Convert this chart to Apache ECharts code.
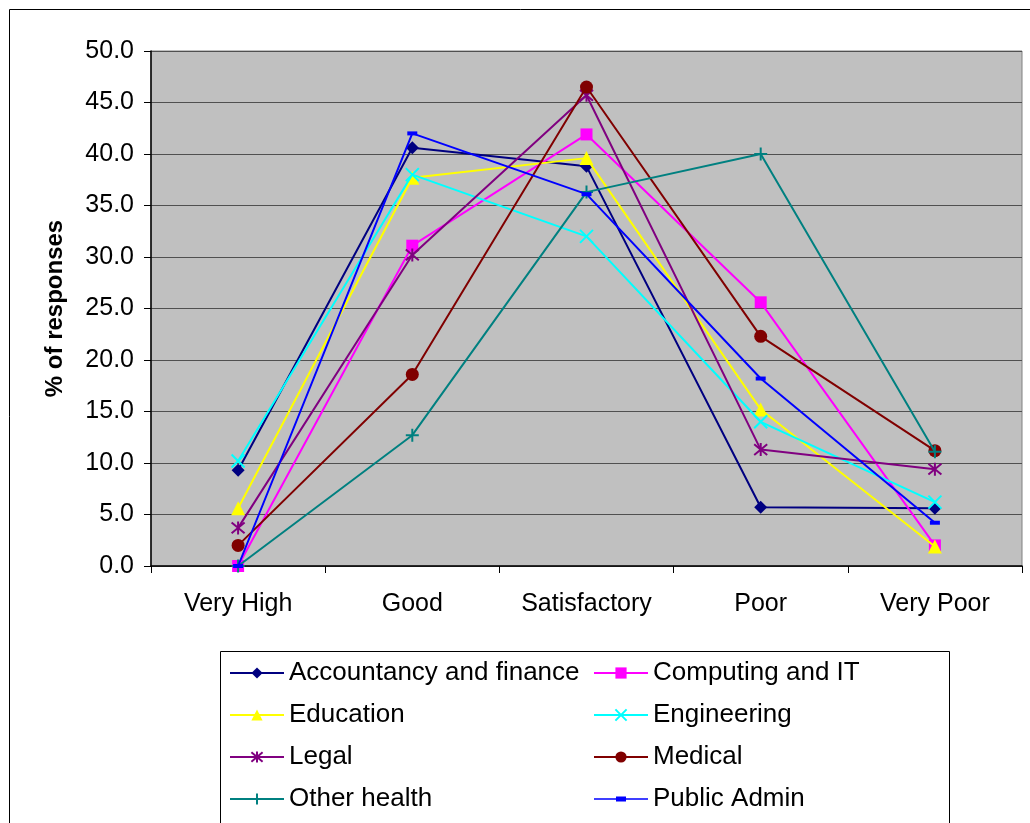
<!DOCTYPE html>
<html>
<head>
<meta charset="utf-8">
<title>% of responses by sector</title>
<script src="https://cdn.jsdelivr.net/npm/echarts@6/dist/echarts.min.js"></script>
<style>
  html, body { margin: 0; padding: 0; background: #ffffff; }
  #chart { width: 1030px; height: 823px; }
</style>
</head>
<body>
<div id="chart"></div>
<script>
// Rating categories along the x axis
const categories = ['Very High', 'Good', 'Satisfactory', 'Poor', 'Very Poor'];

// Percentage of responses per sector
const accountancy = [9.3, 40.6, 38.8, 5.7, 5.6];
const computing   = [0.0, 31.1, 41.9, 25.6, 2.0];
const education   = [5.6, 37.7, 39.6, 15.2, 1.9];
const engineering = [10.2, 38.0, 32.0, 14.0, 6.2];
const legal       = [3.7, 30.2, 45.7, 11.3, 9.4];
const medical     = [2.0, 18.6, 46.5, 22.3, 11.2];
const otherHealth = [0.0, 12.7, 36.3, 40.0, 11.1];
const publicAdmin = [0.0, 42.0, 36.1, 18.2, 4.2];

const seriesNames = ['Accountancy and finance', 'Computing and IT', 'Education', 'Engineering',
                     'Legal', 'Medical', 'Other health', 'Public Admin'];
const seriesData = [accountancy, computing, education, engineering, legal, medical, otherHealth, publicAdmin];

// Per-series look: colour and marker shape
const styles = [
  { color: '#000080', symbol: 'diamond', size: 13, stroke: 0 },
  { color: '#FF00FF', symbol: 'rect', size: 12, stroke: 0 },
  { color: '#FFFF00', symbol: 'triangle', size: 14, stroke: 0 },
  { color: '#00FFFF', symbol: 'path://M0,0L10,10M10,0L0,10', size: 13, stroke: 2 },
  { color: '#800080', symbol: 'path://M0,0L10,10M10,0L0,10M5,-1L5,11', size: 13, stroke: 2 },
  { color: '#800000', symbol: 'circle', size: 13, stroke: 0 },
  { color: '#008080', symbol: 'path://M5,0L5,10M0,5L10,5', size: 13, stroke: 2 },
  { color: '#0000FF', symbol: 'rect', size: [10, 4], stroke: 0 }
];

const FONT = '"Liberation Sans", Arial, sans-serif';

const series = seriesNames.map((name, i) => ({
  name: name,
  type: 'line',
  data: seriesData[i],
  symbol: styles[i].symbol,
  symbolSize: styles[i].size,
  showSymbol: true,
  showAllSymbol: true,
  z: 3 + i,
  lineStyle: { color: styles[i].color, width: 2 },
  itemStyle: {
    color: styles[i].color,
    borderColor: styles[i].color,
    borderWidth: styles[i].stroke
  },
  emphasis: { disabled: true },
  animation: false
}));

const legendBase = {
  orient: 'vertical',
  top: 658,
  itemWidth: 54,
  itemHeight: 14,
  itemGap: 12,
  selectedMode: false,
  textStyle: { fontFamily: FONT, fontSize: 26, color: '#000', lineHeight: 30 },
  padding: 0
};

// legend key for the dash marker: a line with a short bar on it
const dashKey = 'path://M0,1.75h54v1.5h-54z M22,0h10v5h-10z';

const option = {
  backgroundColor: '#ffffff',
  animation: false,
  grid: {
    left: 151, right: 8, top: 51, bottom: 257,
    show: true,
    backgroundColor: '#C0C0C0',
    borderColor: '#808080',
    borderWidth: 1
  },
  xAxis: {
    type: 'category',
    data: categories,
    boundaryGap: true,
    axisLine: { lineStyle: { color: '#000', width: 1.5 } },
    axisTick: { show: true, inside: false, length: 7, lineStyle: { color: '#000' } },
    axisLabel: { fontFamily: FONT, fontSize: 25, color: '#000', margin: 26 },
    splitLine: { show: false }
  },
  yAxis: {
    type: 'value',
    min: 0, max: 50, interval: 5,
    name: '% of responses',
    nameLocation: 'middle',
    nameRotate: 90,
    nameGap: 84,
    nameTextStyle: { fontFamily: FONT, fontSize: 24, fontWeight: 'bold', color: '#000' },
    axisLine: { show: true, lineStyle: { color: '#000', width: 1.5 } },
    axisTick: { show: true, inside: false, length: 7, lineStyle: { color: '#000' } },
    axisLabel: {
      fontFamily: FONT, fontSize: 25, color: '#000', margin: 17,
      formatter: v => v.toFixed(1)
    },
    splitLine: { show: true, lineStyle: { color: '#505050', width: 1.2 } }
  },
  legend: [
    Object.assign({}, legendBase, {
      left: 229,
      data: ['Accountancy and finance', 'Education', 'Legal', 'Other health']
    }),
    Object.assign({}, legendBase, {
      left: 593,
      data: ['Computing and IT', 'Engineering', 'Medical', { name: 'Public Admin', icon: dashKey }]
    })
  ],
  graphic: [
    // outer chart frame
    { type: 'rect', z: -10, silent: true,
      shape: { x: 9.5, y: 9.5, width: 1100, height: 900 },
      style: { fill: 'none', stroke: '#000', lineWidth: 1 } },
    // legend frame
    { type: 'rect', z: -5, silent: true,
      shape: { x: 220.5, y: 651.5, width: 729, height: 250 },
      style: { fill: '#fff', stroke: '#000', lineWidth: 1 } }
  ],
  series: series
};

const chart = echarts.init(document.getElementById('chart'), null, { renderer: 'canvas' });
chart.setOption(option);
</script>
</body>
</html>
